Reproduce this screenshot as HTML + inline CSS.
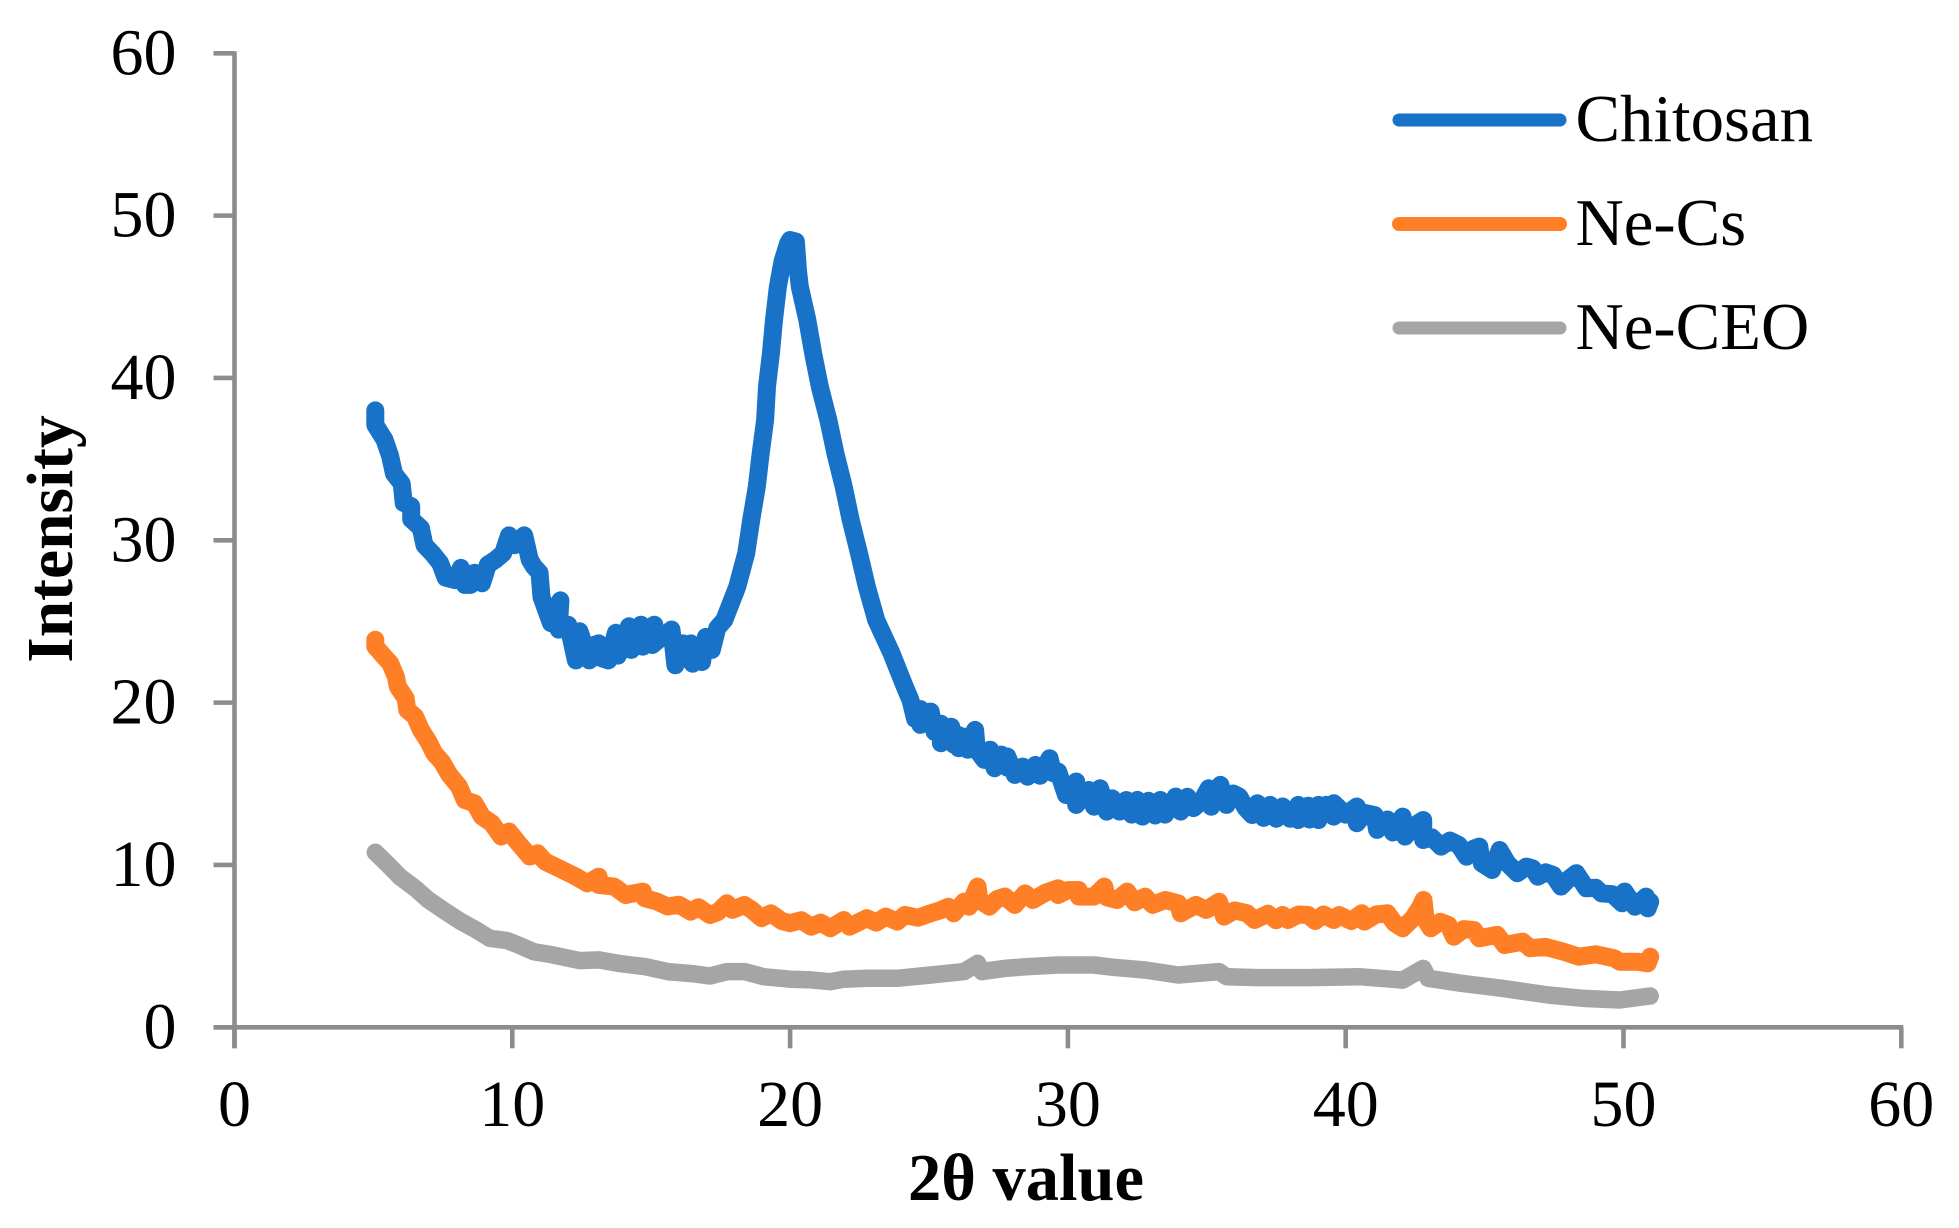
<!DOCTYPE html>
<html lang="en">
<head>
<meta charset="utf-8">
<title>XRD intensity chart</title>
<style>
html,body{margin:0;padding:0;background:#fff;}
svg{display:block;}
text{font-family:"Liberation Serif",serif;fill:#000;}
</style>
</head>
<body>
<svg id="chart" xmlns="http://www.w3.org/2000/svg" width="1959" height="1228" viewBox="0 0 1959 1228">
  <rect width="1959" height="1228" fill="#fff"/>
  <g id="axes"></g>
  <g id="series"></g>
  <text transform="translate(72,539) rotate(-90)" text-anchor="middle" font-size="65.5" font-weight="bold">Intensity</text>
  <text x="1026" y="1200" text-anchor="middle" font-size="66.5" font-weight="bold">2θ value</text>
  <g>
    <line x1="1399" y1="120" x2="1560" y2="120" stroke="#1872c8" stroke-width="13" stroke-linecap="round"/>
    <text x="1575.5" y="141" font-size="66.8">Chitosan</text>
    <line x1="1399" y1="224" x2="1560" y2="224" stroke="#ff7f27" stroke-width="14" stroke-linecap="round"/>
    <text x="1575.5" y="245" font-size="66.8">Ne-Cs</text>
    <line x1="1399" y1="328" x2="1560" y2="328" stroke="#a5a5a5" stroke-width="13" stroke-linecap="round"/>
    <text x="1575.5" y="349" font-size="66.8">Ne-CEO</text>
  </g>
</svg>
<script>
const xTickLabels = [0,10,20,30,40,50,60];
const yTickLabels = [0,10,20,30,40,50,60];

const chitosanPoints = [
[5.07,38.0],[5.07,37.1],[5.40,36.2],[5.60,35.2],[5.74,34.1],[6.02,33.5],[6.09,32.3],[6.36,32.1],[6.36,31.3],[6.71,30.75],[6.84,29.7],[7.12,29.2],[7.40,28.6],[7.60,27.7],[7.95,27.55],[8.15,28.3],[8.29,27.25],[8.50,27.25],[8.64,28.0],[8.91,27.35],[9.12,28.5],[9.39,28.8],[9.67,29.2],[9.88,30.3],[10.08,29.7],[10.43,30.3],[10.63,28.8],[10.77,28.4],[10.98,28.0],[11.05,26.5],[11.39,24.9],[11.73,26.3],[11.67,24.5],[12.01,24.8],[12.29,22.6],[12.42,24.4],[12.77,22.6],[12.77,23.45],[13.11,23.65],[13.11,22.8],[13.46,22.6],[13.73,24.3],[13.80,22.9],[14.20,24.7],[14.28,23.25],[14.63,24.8],[14.70,23.45],[15.11,24.8],[15.04,23.55],[15.39,24.05],[15.73,24.5],[15.87,22.3],[16.14,23.65],[16.49,22.4],[16.42,23.65],[16.83,22.5],[16.97,24.05],[17.18,23.25],[17.38,24.6],
[17.63,25.09],[18.10,27.15],[18.42,29.2],[18.60,31.25],[18.80,33.3],[18.94,35.36],[19.10,37.4],[19.17,39.47],[19.31,41.5],[19.42,43.58],[19.56,45.63],[19.73,47.2],[19.93,48.3],[20.00,48.5],[20.21,48.4],[20.28,46.66],[20.35,45.63],[20.62,43.58],[20.83,41.5],[21.07,39.47],[21.38,37.4],[21.63,35.36],[21.93,33.3],[22.18,31.25],[22.48,29.2],[22.76,27.15],[23.10,25.09],[23.65,23.04],[24.13,20.98],
[24.33,20.17],[24.5,19.0],[24.69,19.6],[24.69,18.63],[25.06,19.45],[25.2,18.2],[25.43,18.7],[25.43,17.5],[25.8,18.52],[25.9,17.4],[26.07,18.0],[26.07,17.19],[26.35,17.91],[26.4,17.1],[26.66,18.32],[26.72,17.09],[26.99,16.47],[27.2,17.1],[27.36,15.96],[27.6,16.8],[27.82,16.0],[27.82,16.68],[28.09,15.55],[28.37,16.06],[28.55,15.44],[28.83,16.16],[29.0,15.5],[29.34,16.57],[29.47,15.65],[29.65,15.75],[29.93,14.31],[30.3,15.14],[30.3,13.7],[30.76,14.62],[30.94,13.59],[31.16,14.72],[31.4,13.29],[31.6,14.1],[31.86,13.29],[32.1,14.0],[32.3,13.1],[32.5,14.01],[32.68,12.98],[32.9,13.95],[33.14,13.05],[33.33,14.0],[33.5,13.1],[33.88,14.21],[34.06,13.29],[34.3,14.2],[34.52,13.5],[34.8,13.9],[35.07,14.72],[35.16,13.59],[35.49,14.93],[35.71,13.7],[35.95,14.4],[36.17,14.21],[36.4,13.5],[36.63,13.08],[36.82,13.8],[37.05,12.9],[37.28,13.7],[37.5,12.85],[37.73,13.6],[38.0,12.85],[38.29,13.7],[38.29,12.77],[38.65,13.65],[38.7,12.8],[39.02,13.7],[39.02,12.77],[39.3,13.7],[39.57,12.98],[39.57,13.8],[40.0,13.1],[40.4,13.6],[40.4,12.57],[40.7,13.2],[41.04,13.08],[41.13,12.16],[41.5,12.8],[41.7,12.0],[42.05,12.98],[42.14,11.75],[42.45,12.4],[42.79,12.77],[42.79,11.54],[43.1,11.7],[43.43,11.13],[43.75,11.5],[44.07,11.23],[44.35,10.51],[44.6,11.0],[44.81,11.13],[44.90,10.1],[45.27,9.69],[45.54,10.92],[45.82,10.1],[46.18,9.49],[46.5,9.9],[46.73,9.79],[46.92,9.28],[47.2,9.55],[47.47,9.38],[47.75,8.67],[48.0,9.1],[48.30,9.49],[48.66,8.56],[49.0,8.6],[49.21,8.25],[49.6,8.2],[49.95,7.64],[50.04,8.36],[50.41,7.43],[50.81,8.05],[50.87,7.33],[50.96,7.74]
];

const neCsPoints = [
[5.07,23.87],[5.07,23.46],[5.33,22.94],[5.60,22.43],[5.81,21.6],[5.88,20.99],[6.16,20.27],[6.22,19.55],[6.50,19.14],[6.71,18.32],[6.98,17.6],[7.19,16.88],[7.46,16.37],[7.74,15.55],[8.08,14.83],[8.29,14.0],[8.64,13.8],[8.91,12.98],[9.26,12.57],[9.60,11.75],[9.88,12.06],[10.22,11.34],[10.63,10.52],[10.91,10.72],[11.18,10.21],[11.67,9.8],[12.29,9.28],[12.70,8.87],[13.11,9.28],[13.11,8.77],[13.66,8.67],[14.08,8.15],[14.70,8.36],[14.77,7.95],[15.2,7.75],[15.59,7.44],[16.0,7.55],[16.42,7.13],[16.7,7.4],[17.11,6.92],[17.4,7.1],[17.73,7.64],[17.93,7.23],[18.35,7.54],[18.62,7.23],[18.97,6.72],[19.31,7.02],[19.7,6.55],[20.00,6.41],[20.4,6.6],[20.76,6.2],[21.1,6.45],[21.45,6.1],[21.93,6.61],[22.14,6.2],[22.76,6.72],[23.1,6.45],[23.44,6.82],[23.86,6.51],[24.13,6.92],[24.6,6.75],
[25.06,7.02],[25.4,7.2],[25.70,7.43],[25.89,7.02],[26.26,7.74],[26.44,7.43],[26.75,8.67],[26.81,7.84],[27.17,7.43],[27.45,7.9],[27.73,8.05],[28.09,7.54],[28.46,8.25],[28.74,7.84],[29.2,8.3],[29.65,8.56],[29.65,8.15],[30.0,8.45],[30.39,8.46],[30.39,8.05],[30.94,8.05],[31.31,8.67],[31.4,8.0],[31.77,7.84],[32.13,8.36],[32.4,7.7],[32.78,8.05],[33.05,7.54],[33.51,7.84],[33.97,7.64],[34.06,7.02],[34.61,7.54],[34.98,7.23],[35.44,7.74],[35.62,6.82],[36.0,7.2],[36.45,7.02],[36.72,6.61],[37.2,7.0],[37.5,6.6],[37.73,6.92],[37.92,6.61],[38.3,6.95],[38.65,6.92],[38.9,6.55],[39.2,6.95],[39.57,6.61],[39.76,6.92],[40.2,6.55],[40.58,7.02],[40.67,6.51],[41.1,6.95],[41.50,7.02],[41.76,6.41],[42.05,6.1],[42.42,6.71],[42.69,7.43],[42.80,7.84],[42.88,6.61],[43.06,6.1],[43.4,6.5],[43.70,6.3],[43.89,5.58],[44.25,6.05],[44.62,5.99],[44.81,5.48],[45.45,5.69],[45.72,5.07],[46.37,5.28],[46.64,4.87],[47.2,4.95],[47.84,4.66],[48.39,4.35],[49.0,4.5],[49.67,4.25],[49.86,4.04],[50.50,4.04],[50.87,3.94],[50.96,4.35]
];

const neCeoPoints = [
[5.07,10.78],[5.54,10.0],[5.95,9.28],[6.50,8.57],[6.98,7.85],[7.60,7.13],[8.15,6.51],[8.70,6.0],[9.19,5.48],[9.81,5.34],[10.22,5.07],[10.77,4.66],[11.46,4.46],[12.42,4.11],[13.11,4.15],[13.80,3.94],[14.77,3.74],[15.59,3.43],[16.56,3.29],[17.11,3.16],[17.73,3.43],[18.35,3.43],[19.04,3.12],[20.00,2.96],[20.76,2.92],[21.45,2.81],[21.93,2.96],[22.76,3.02],[23.86,3.02],[25.06,3.22],[26.26,3.43],[26.75,3.94],[26.90,3.43],[27.73,3.63],[28.55,3.74],[29.65,3.84],[30.94,3.84],[31.67,3.69],[32.78,3.53],[33.97,3.22],[35.44,3.43],[35.71,3.12],[36.82,3.06],[38.65,3.06],[40.49,3.12],[42.05,2.91],[42.79,3.63],[42.97,3.02],[44.16,2.71],[45.63,2.4],[47.29,1.99],[48.57,1.78],[49.86,1.68],[50.96,1.93]
];

const SVG_NS = 'http://www.w3.org/2000/svg';
const AXIS_COLOR = '#8c8c8c';
const X0 = 234.5, X60 = 1901.3, Y0 = 1027.3, Y60 = 53.3;
function xScale(v){ return X0 + (v / 60) * (X60 - X0); }
function yScale(v){ return Y0 - (v / 60) * (Y0 - Y60); }
function make(tag, attrs){
  const el = document.createElementNS(SVG_NS, tag);
  for (const k in attrs) el.setAttribute(k, attrs[k]);
  return el;
}
const axes = document.getElementById('axes');
const seriesGroup = document.getElementById('series');

const yAxisLine = make('line', {x1:X0, y1:Y60-2, x2:X0, y2:Y0+21, stroke:AXIS_COLOR, 'stroke-width':4.6});


axes.appendChild(yAxisLine);

const xAxisLine = make('line', {x1:X0-21, y1:Y0, x2:X60+2, y2:Y0, stroke:AXIS_COLOR, 'stroke-width':4.6});


axes.appendChild(xAxisLine);

xTickLabels.forEach(function(v){
  const tick = make('line', {x1:xScale(v), y1:Y0, x2:xScale(v), y2:Y0+21, stroke:AXIS_COLOR, 'stroke-width':4.6});
  
  
  axes.appendChild(tick);
  const label = make('text', {x:xScale(v), y:1126, 'text-anchor':'middle', 'font-size':66});
  
  
  label.textContent = v;
  axes.appendChild(label);
});

yTickLabels.forEach(function(v){
  const tick = make('line', {x1:X0-21, y1:yScale(v), x2:X0, y2:yScale(v), stroke:AXIS_COLOR, 'stroke-width':4.6});
  
  
  axes.appendChild(tick);
  const label = make('text', {x:176.5, y:yScale(v)+21, 'text-anchor':'end', 'font-size':66});
  
  
  label.textContent = v;
  axes.appendChild(label);
});

function drawSeries(points, color, width){
  const pts = points.map(function(p){ return xScale(p[0]).toFixed(1) + ',' + yScale(p[1]).toFixed(1); }).join(' ');
  const line = make('polyline', {points:pts, fill:'none', stroke:color, 'stroke-width':width, 'stroke-linejoin':'round', 'stroke-linecap':'round'});
  seriesGroup.appendChild(line);
  return line;
}
const neCeoLine = drawSeries(neCeoPoints, '#a5a5a5', 17.5);


const neCsLine = drawSeries(neCsPoints, '#ff7f27', 18);


const chitosanLine = drawSeries(chitosanPoints, '#1872c8', 18);


</script>
</body>
</html>
